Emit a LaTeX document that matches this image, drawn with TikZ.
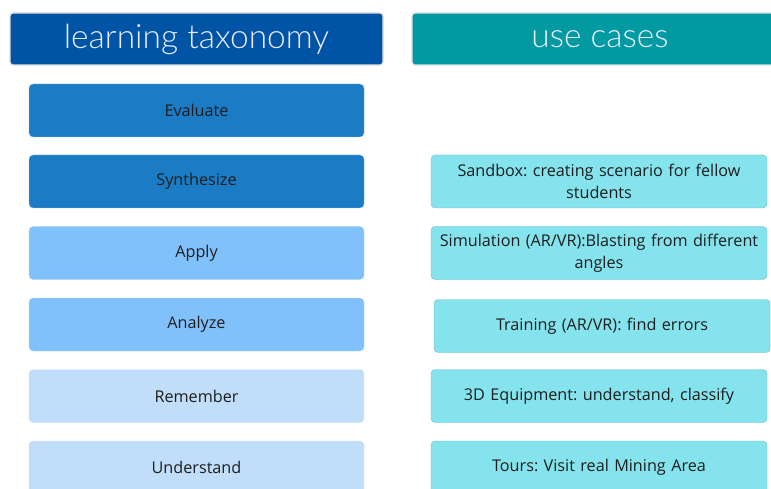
\documentclass[tikz,border=0pt]{standalone}
\usepackage{fontspec}
\setmainfont{Open Sans}
\newfontfamily\hdrfont{Lato Light}
\definecolor{hdrblue}{HTML}{0054A6}
\definecolor{hdrteal}{HTML}{009AA0}
\definecolor{lvlA}{HTML}{1B7BC4}
\definecolor{lvlB}{HTML}{80C1FB}
\definecolor{lvlC}{HTML}{C0DEF9}
\definecolor{usecol}{HTML}{84E3EC}
\definecolor{txt}{HTML}{1E1E1E}
\tikzset{
  x=1pt, y=-1pt,
  header/.style={rectangle, rounded corners=3pt, draw=black!12, line width=1.2pt,
    minimum height=52pt, text=white!92!blue, font=\hdrfont\fontsize{33.5}{36}\selectfont, inner sep=0pt},
  levelbox/.style={rectangle, rounded corners=4pt, draw=#1!85!black!40, line width=0.4pt, fill=#1,
    minimum width=335pt, minimum height=53pt, text=txt, font=\fontsize{16.2}{19}\selectfont, inner sep=0pt},
  usebox/.style={rectangle, rounded corners=4pt, draw=usecol!85!black, line width=0.4pt, fill=usecol,
    minimum width=336pt, minimum height=53pt, text=txt, align=center, text width=334pt,
    font=\frenchspacing\fontsize{16.2}{22}\selectfont, inner sep=0pt},
}
\begin{document}
\begin{tikzpicture}
\useasboundingbox (0,0) rectangle (771,489);
\clip (0,0) rectangle (771,489);
\fill[white] (0,0) rectangle (771,489);
\node[header, fill=hdrblue, minimum width=373pt] (h1) at (196.5,39) {learning taxonomy};
\node[header, fill=hdrteal, minimum width=380pt] (h2) at (602,39) {\hspace*{-4pt}use cases};
\node[levelbox=lvlA] (eval) at (196.5,110.5) {Evaluate};
\node[levelbox=lvlA] (syn) at (196.5,181.5) {Synthesize};
\node[levelbox=lvlB] (app) at (196.5,253) {Apply};
\node[levelbox=lvlB] (ana) at (196.5,324.5) {Analyze};
\node[levelbox=lvlC] (rem) at (196.5,396) {Remember};
\node[levelbox=lvlC] (und) at (196.5,467.5) {Understand};
\node[usebox] (sand) at (599,181.5) {Sandbox: creating scenario for fellow\\students};
\node[usebox] (sim) at (599,253) {Simulation (AR/VR):Blasting from different\\angles};
\node[usebox] (train) at (602,326) {Training (AR/VR): find errors};
\node[usebox] (equip) at (599,396) {3D Equipment: understand, classify};
\node[usebox] (tour) at (599,467.5) {Tours: Visit real Mining Area};
\end{tikzpicture}
\end{document}
